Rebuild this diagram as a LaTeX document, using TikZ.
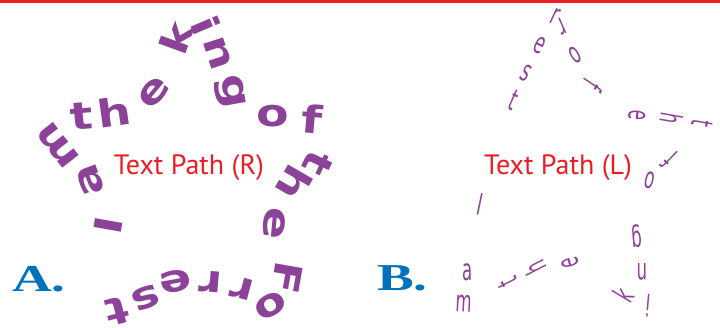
\documentclass[tikz,border=0pt]{standalone}
\usepackage{fontspec}
\usepackage{graphicx}
\newfontfamily\leftfont{DejaVu Sans}
\newfontfamily\rightfont{DejaVu Sans}
\newfontfamily\labelfont{PT Sans}
\newfontfamily\abfont{Liberation Serif}
\definecolor{lpurple}{RGB}{140,66,152}
\definecolor{lred}{RGB}{237,28,36}
\definecolor{lblue}{RGB}{0,114,188}
\newcommand{\lch}[1]{\scalebox{1.25}[1]{\leftfont\bfseries\fontsize{38}{38}\selectfont #1}}
\newcommand{\rch}[1]{\scalebox{0.55}[1]{\rightfont\fontsize{30}{30}\selectfont #1}}
\tikzset{
  lletter/.style={inner sep=0pt, text=lpurple},
  rletter/.style={inner sep=0pt, text=lpurple},
  pathlabel/.style={inner sep=0pt, text=lred, font=\labelfont\fontsize{28}{28}\selectfont},
  abletter/.style={inner sep=0pt, text=lblue, anchor=base west}
}
\begin{document}
\begin{tikzpicture}[x=1pt,y=-1pt]
\useasboundingbox (0,0) rectangle (720,328);
\draw[lred, line width=2.5pt] (0,1.5) -- (720,1.5);
% left star
\node[lletter, rotate=80]   (l1) at (108,225) {\lch{I}};
\node[lletter, rotate=110]  (l2) at (90,180) {\lch{a}};
\node[lletter, rotate=128]  (l3) at (58,146) {\lch{m}};
\node[lletter, rotate=5]    (l4) at (82,116) {\lch{t}};
\node[lletter, rotate=8]    (l5) at (114,112) {\lch{h}};
\node[lletter, rotate=50]   (l6) at (154,92) {\lch{e}};
\node[lletter, rotate=70]   (l7) at (176,38) {\lch{k}};
\node[lletter, rotate=-67]  (l8) at (206,25) {\lch{i}};
\node[lletter, rotate=-72]  (l9) at (218,53) {\lch{n}};
\node[lletter, rotate=-80]  (l10) at (230,92) {\lch{g}};
\node[lletter, rotate=0]    (l11) at (273,116) {\lch{o}};
\node[lletter, rotate=-5]   (l12) at (312,119) {\lch{f}};
\node[lletter, rotate=-115] (l13) at (318,163) {\lch{t}};
\node[lletter, rotate=-120] (l14) at (295,183) {\lch{h}};
\node[lletter, rotate=-95]  (l15) at (274,223) {\lch{e}};
\node[lletter, rotate=-100] (l16) at (287,278) {\lch{F}};
\node[lletter, rotate=-150] (l17) at (271,306) {\lch{o}};
\node[lletter, rotate=165]  (l18) at (242,289) {\lch{r}};
\node[lletter, rotate=175]  (l19) at (211,282) {\lch{r}};
\node[lletter, rotate=190]  (l20) at (175,282) {\lch{e}};
\node[lletter, rotate=200]  (l21) at (146,298) {\lch{s}};
\node[lletter, rotate=195]  (l22) at (117,311) {\lch{t}};
% right star
\node[rletter, rotate=-12]  (r1) at (480,204) {\rch{I}};
\node[rletter, rotate=0]    (r2) at (468,272) {\rch{a}};
\node[rletter, rotate=-3]   (r3) at (464,304) {\rch{m}};
\node[rletter, rotate=117]  (r4) at (508,282) {\rch{t}};
\node[rletter, rotate=117]  (r5) at (535,268) {\rch{h}};
\node[rletter, rotate=105]  (r6) at (570,263) {\rch{e}};
\node[rletter, rotate=59]   (r7) at (623,295) {\rch{k}};
\node[rletter, rotate=175]  (r8) at (648,306) {\rch{i}};
\node[rletter, rotate=180]  (r9) at (642,272) {\rch{n}};
\node[rletter, rotate=185]  (r10) at (637,236) {\rch{g}};
\node[rletter, rotate=167]  (r11) at (650,180) {\rch{o}};
\node[rletter, rotate=136]  (r12) at (669,160) {\rch{f}};
\node[rletter, rotate=-100] (r13) at (702,124) {\rch{t}};
\node[rletter, rotate=-100] (r14) at (672,119) {\rch{h}};
\node[rletter, rotate=-95]  (r15) at (637,115) {\rch{e}};
\node[rletter, rotate=-124] (r16) at (593,85) {\rch{f}};
\node[rletter, rotate=-150] (r17) at (575,55) {\rch{o}};
\node[rletter, rotate=204]  (r18) at (562,27) {\rch{r}};
\node[rletter, rotate=-25]  (r19) at (555,16) {\rch{r}};
\node[rletter, rotate=-26]  (r20) at (540,45) {\rch{e}};
\node[rletter, rotate=-27]  (r21) at (526,73) {\rch{s}};
\node[rletter, rotate=-24]  (r22) at (514,100) {\rch{t}};
% labels
\node[pathlabel] (tr) at (189,168) {Text Path (R)};
\node[pathlabel] (tl) at (558,168) {Text Path (L)};
\node[abletter] (la) at (12,292) {\scalebox{1.45}[1]{\abfont\bfseries\fontsize{38}{38}\selectfont A.}};
\node[abletter] (lb) at (377,291) {\scalebox{1.45}[1]{\abfont\bfseries\fontsize{38}{38}\selectfont B.}};
\end{tikzpicture}
\end{document}
